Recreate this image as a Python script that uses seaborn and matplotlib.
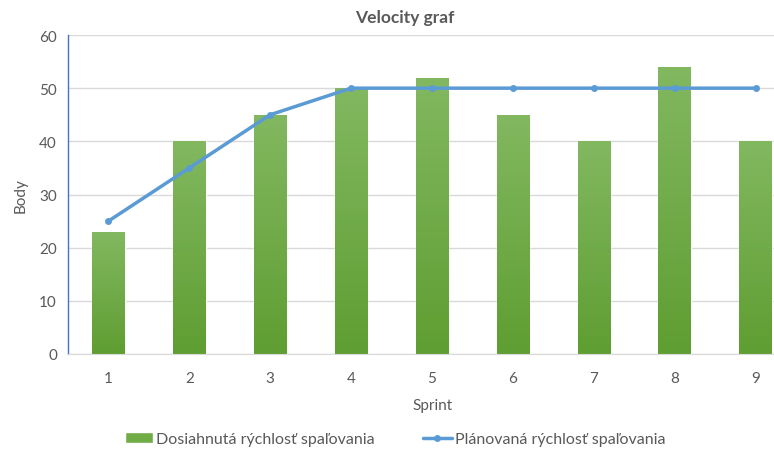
import numpy as np
import pandas as pd
import matplotlib
matplotlib.use('Agg')
import matplotlib.pyplot as plt
import seaborn as sns
from matplotlib.colors import LinearSegmentedColormap
from matplotlib.lines import Line2D
from matplotlib.patches import Patch

sprints = ['1', '2', '3', '4', '5', '6', '7', '8', '9']
achieved = [23, 40, 45, 50, 52, 45, 40, 54, 40]
planned = [25, 35, 45, 50, 50, 50, 50, 50, 50]
y_ticks = [0, 10, 20, 30, 40, 50, 60]

bar_label = 'Dosiahnutá rýchlosť spaľovania'
line_label = 'Plánovaná rýchlosť spaľovania'

sns.set_style('white')
plt.rcParams['font.family'] = ['Lato', 'DejaVu Sans']
text_color = '#595959'

df = pd.DataFrame({'Sprint': sprints, 'achieved': achieved, 'planned': planned})

fig = plt.figure(figsize=(7.74, 4.56), dpi=100)
ax = fig.add_axes([68 / 774, 101 / 456, 728 / 774, 319 / 456])

sns.barplot(data=df, x='Sprint', y='achieved', color='#70ad47', width=0.4,
            saturation=1, ax=ax, zorder=2)

# gradient fill inside each bar (lighter top, darker bottom)
grad = LinearSegmentedColormap.from_list('g', ['#5f9e32', '#82b860'])
for p in ax.patches:
    x0, w, h = p.get_x(), p.get_width(), p.get_height()
    img = ax.imshow(np.linspace(0, 1, 100).reshape(-1, 1), cmap=grad,
                    extent=[x0, x0 + w, 0, h], origin='lower', aspect='auto',
                    zorder=2.5)
    img.set_clip_path(p)

sns.lineplot(data=df, x='Sprint', y='planned', color='#5b9bd5', linewidth=2.5,
             marker='o', markersize=5, markeredgewidth=0, ax=ax, zorder=4)

ax.set_xlim(-0.5, 8.5)
ax.set_ylim(0, 60)
ax.set_yticks(y_ticks)
ax.yaxis.grid(True, color='#d9d9d9', linewidth=1)
ax.set_axisbelow(True)
for s in ['top', 'right']:
    ax.spines[s].set_visible(False)
ax.spines['left'].set_color('#4472c4')
ax.spines['left'].set_linewidth(1)
ax.spines['bottom'].set_color('#d9d9d9')
ax.tick_params(axis='both', length=0, labelsize=11, colors=text_color, pad=8)
ax.tick_params(axis='x', pad=12)

ax.set_xlabel('Sprint', fontsize=11, color=text_color)
ax.set_ylabel('Body', fontsize=11, color=text_color, labelpad=8)
ax.xaxis.set_label_coords((433 - 68) / 728, -44 / 319)

fig.text(405 / 774, 1 - 18 / 456, 'Velocity graf', ha='center', va='center',
         fontsize=12.5, fontweight='bold', color=text_color)

handles = [Patch(facecolor='#70ad47', label=bar_label),
           Line2D([0], [0], color='#5b9bd5', linewidth=2.5, marker='o',
                  markersize=5, markeredgewidth=0, label=line_label)]
fig.legend(handles=handles, loc='center', bbox_to_anchor=(395 / 774, 1 - 440 / 456),
           ncol=2, frameon=False, fontsize=11.5, labelcolor=text_color,
           handlelength=1.8, handletextpad=0.2, columnspacing=3.0)

fig.savefig('out.png', dpi=100)
